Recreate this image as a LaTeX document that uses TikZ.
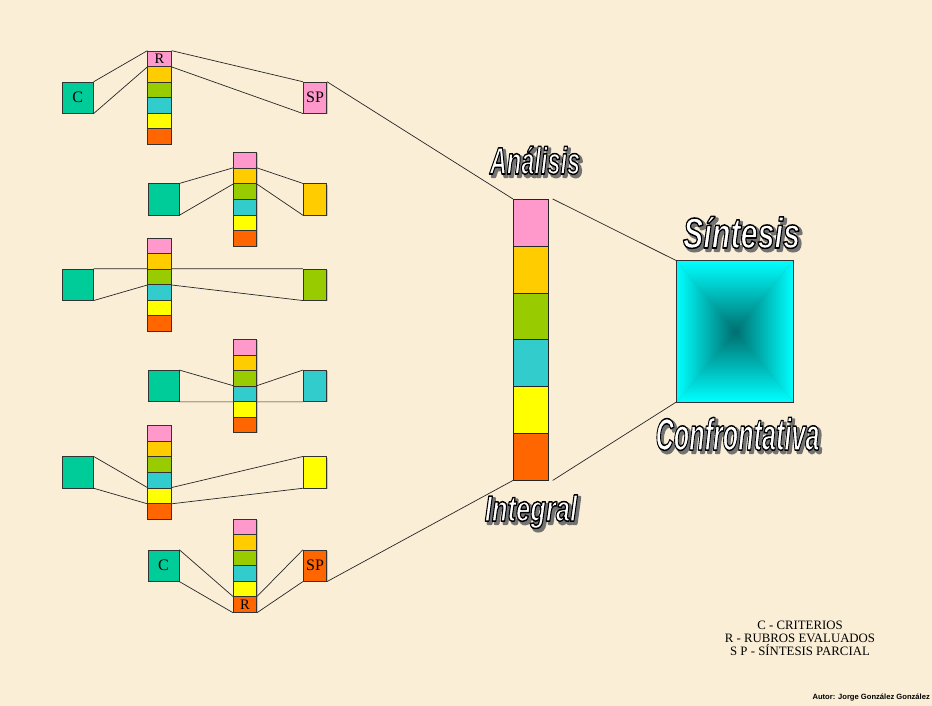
\documentclass[tikz,border=0pt]{standalone}
\usepackage{fontspec}
\setmainfont{Liberation Serif}
\newfontfamily\headfont{Liberation Sans}
\usepackage{graphicx}
\usepackage{tikz}
\usetikzlibrary{positioning,shadows,calc}
\usepackage{xcolor}
\definecolor{bgcream}{RGB}{251,238,214}
\definecolor{critgreen}{RGB}{0,204,153}
\definecolor{rubro1}{RGB}{255,153,204}
\definecolor{rubro2}{RGB}{255,204,0}
\definecolor{rubro3}{RGB}{153,204,0}
\definecolor{rubro4}{RGB}{51,204,204}
\definecolor{rubro5}{RGB}{255,255,0}
\definecolor{rubro6}{RGB}{255,102,0}
\definecolor{sintcyan}{RGB}{0,255,255}
\definecolor{sintdark}{RGB}{0,110,110}
\tikzstyle{link} = [line width=0.7pt, color=black!85]
\tikzstyle{boxshadow} = [drop shadow={shadow xshift=0.8pt, shadow yshift=-0.8pt, opacity=0.4}]
\tikzstyle{rubrocell} = [rectangle, minimum width=23.5pt, minimum height=15.55pt, inner sep=0pt, draw=black!80, line width=0.7pt, boxshadow]
\tikzstyle{critbox} = [rectangle, minimum width=31pt, minimum height=31.1pt, inner sep=0pt, draw=black!80, fill=critgreen, line width=0.7pt, boxshadow]
\tikzstyle{spbox} = [rectangle, minimum width=23.4pt, minimum height=31.1pt, inner sep=0pt, draw=black!80, line width=0.7pt, boxshadow]
\tikzstyle{bigcell} = [rectangle, minimum width=35pt, minimum height=46.8pt, inner sep=0pt, draw=black!85, line width=0.7pt]
\tikzstyle{tag} = [inner sep=0pt, font=\fontsize{16}{16}\selectfont]
\tikzstyle{smalltag} = [inner sep=0pt, font=\fontsize{14.5}{14.5}\selectfont]
\tikzstyle{wordface} = [anchor=base, inner sep=0pt, text=white]
\tikzstyle{wordshadow} = [anchor=base, inner sep=0pt, text=black!55, xshift=2.5pt, yshift=-2.5pt]
% outlined glyphs: fill with the text colour, stroke with the given one
\newcommand{\rimmed}[3]{\special{pdf:literal direct #2 RG 2 Tr #3 w 1 j}#1\special{pdf:literal direct 0 Tr}}
\newcommand{\wordbox}[5]{\scalebox{#2}[1]{\headfont\bfseries\itshape\fontsize{#1}{#1}\selectfont\rimmed{#3}{#4}{#5}}}
\newcommand{\shinyword}[6]{%
  \node[wordshadow] at (#2,#3) {\wordbox{#4}{#5}{#6}{0.45 0.45 0.45}{3.2}};
  \node[wordface] (#1) at (#2,#3) {\wordbox{#4}{#5}{#6}{0 0 0}{1.5}};
}

\begin{document}
\begin{tikzpicture}[x=1pt, y=-1pt]
% Background
\useasboundingbox (0,0) rectangle (932,706);
\fill[bgcream] (0,0) rectangle (932,706);

% Rubro columns, criteria and partial syntheses
\foreach \row/\colx/\critx/\top in {1/159.5/77.8/51, 2/245/163.5/152.7, 3/159.5/77.8/238, 4/245/163.5/339.3, 5/159.5/77.8/425.7, 6/245/163.5/519} {
    \foreach \k in {1,...,6} {
        \node[rubrocell, fill=rubro\k] (cell\row-\k) at (\colx, \top+15.55*\k-7.775) {};
    }
    \node[critbox] (crit\row) at (\critx, \top+46.65) {};
    \node[spbox, fill=rubro\row] (sp\row) at (315, \top+46.65) {};
    \draw[link] (crit\row.north east) -- (cell\row-\row.north west);
    \draw[link] (crit\row.south east) -- (cell\row-\row.south west);
    \draw[link] (cell\row-\row.north east) -- (sp\row.north west);
    \draw[link] (cell\row-\row.south east) -- (sp\row.south west);
}

% Labels
\node[tag] (tagc1) at (crit1) {C};
\node[smalltag] (tagr1) at (cell1-1) {R};
\node[tag] (tagsp1) at (sp1) {SP};
\node[tag] (tagc6) at (crit6) {C};
\node[smalltag] (tagr6) at (cell6-6) {R};
\node[tag] (tagsp6) at (sp6) {SP};

% Integral column
\foreach \k in {1,...,6} {
    \node[bigcell, fill=rubro\k] (big\k) at (530.8, 199.3+46.8*\k-23.4) {};
}
\draw[link] (sp1.north east) -- (big1.north west);
\draw[link] (sp6.south east) -- (big6.south west);

% Synthesis box
\node[minimum width=116.3pt, minimum height=140.7pt, inner sep=0pt, fill=sintcyan!45!sintdark] (sintesis) at (734.9, 331.3) {};
\shade[top color=sintcyan, middle color=sintcyan!70!sintdark, bottom color=sintdark] (sintesis.north west) -- (sintesis.north east) -- (sintesis.center) -- cycle;
\shade[top color=sintdark, middle color=sintcyan!70!sintdark, bottom color=sintcyan] (sintesis.south west) -- (sintesis.south east) -- (sintesis.center) -- cycle;
\shade[left color=sintcyan, middle color=sintcyan!70!sintdark, right color=sintdark] (sintesis.north west) -- (sintesis.south west) -- (sintesis.center) -- cycle;
\shade[left color=sintdark, middle color=sintcyan!70!sintdark, right color=sintcyan] (sintesis.north east) -- (sintesis.south east) -- (sintesis.center) -- cycle;
\draw[line width=0.7pt, black!80] (sintesis.south west) rectangle (sintesis.north east);
\draw[link] ([xshift=4pt]big1.north east) -- (sintesis.north west);
\draw[link] ([xshift=4pt]big6.south east) -- (sintesis.south west);

% Titles
\shinyword{analisis}{535}{174}{38}{0.62}{Análisis}
\shinyword{integral}{531}{521}{36}{0.71}{Integral}
\shinyword{sintesistit}{741.5}{248}{43}{0.71}{Síntesis}
\shinyword{confront}{737.5}{450}{45}{0.56}{Confrontativa}

% Legend
\node[align=center, font=\fontsize{12.8}{13}\selectfont] (leyenda) at (800, 638) {C - CRITERIOS\\R - RUBROS EVALUADOS\\S P - SÍNTESIS PARCIAL};
\node[anchor=east, inner sep=0pt, font=\headfont\bfseries\fontsize{7.6}{8}\selectfont] (autor) at (930, 698) {Autor: Jorge González González};
\end{tikzpicture}
\end{document}
